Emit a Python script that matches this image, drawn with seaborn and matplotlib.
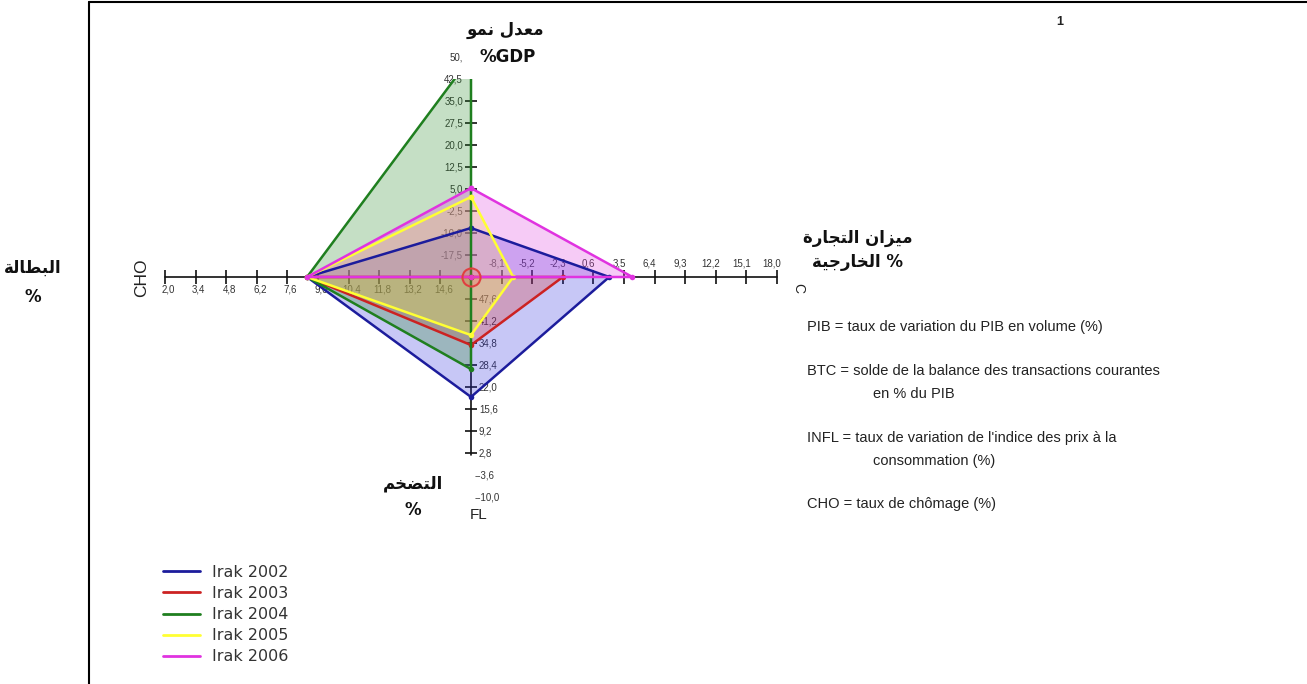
import numpy as np
import pandas as pd
import matplotlib
matplotlib.use('Agg')
import matplotlib.pyplot as plt
import matplotlib.transforms as mtransforms
from matplotlib.lines import Line2D
import seaborn as sns

# data
years = ['Irak 2002', 'Irak 2003', 'Irak 2004', 'Irak 2005', 'Irak 2006']
pib = [-8.3, -25.0, 50.0, 2.3, 5.3]      # PIB growth (%)
btc = [2.1, -2.3, -11.0, -7.0, 4.3]      # current account (% PIB)
infl = [19.1, 34.2, 27.2, 37.1, 54.0]    # inflation (%)
cho = [8.5, 8.5, 8.5, 8.5, 8.5]          # unemployment (%)
colors = ['#1c1c9c', '#cc2222', '#1f7f1f', '#ffff33', '#e033e0']
fills = ['#3030e0', '#dd3030', '#2a8a2a', '#ffff40', '#e040e0']

# axis ranges: centre value -> outer value
pib_rng = (-25.0, 50.0)
btc_rng = (-11.0, 18.0)
infl_rng = (54.0, -10.0)
cho_rng = (16.0, 2.0)

W, H = 1307, 684
cx, cy, sx, sy = 471, 277, 306, 220

sns.set_style('white')
plt.rcParams['font.family'] = ['Liberation Sans', 'DejaVu Sans']

fig = plt.figure(figsize=(W / 100, H / 100), dpi=100)
xl, xh, yl, yh = -1.05, 1.05, -1.2, 0.9
left = cx + xl * sx
ax = fig.add_axes([left / W, 1 - (cy - yl * sy) / H, (xh - xl) * sx / W, (yh - yl) * sy / H])
ax.set_xlim(xl, xh)
ax.set_ylim(yl, yh)
ax.axis('off')


def norm(v, rng):
    return max((v - rng[0]) / (rng[1] - rng[0]), 0.0)


def lab(v):
    return f'{v:.1f}'.replace('.', ',')


def off(dx, dy):
    return mtransforms.offset_copy(ax.transData, fig=fig, x=dx, y=-dy, units='dots')


# --- axes lines and ticks
ax.plot([-1, 1], [0, 0], color='#111111', lw=1.2, zorder=1)
ax.plot([0, 0], [-0.81, 0.9], color='#111111', lw=1.2, zorder=1)
n = np.linspace(0.1, 1.0, 10)

ax.plot(np.zeros(8), n[:8], ls='none', marker='_', ms=9, mew=1.2, color='#111', zorder=1)
ax.plot(np.zeros(8), -n[:8], ls='none', marker='_', ms=9, mew=1.2, color='#111', zorder=1)
ax.plot(-n, np.zeros(10), ls='none', marker='|', ms=10, mew=1.2, color='#111', zorder=1)
ax.plot(n, np.zeros(10), ls='none', marker='|', ms=10, mew=1.2, color='#111', zorder=1)

tk = dict(fontsize=7, color='#333333', zorder=1)
pib_t = np.linspace(*pib_rng, 11)[1:]
btc_t = np.linspace(*btc_rng, 11)[1:]
infl_t = np.linspace(*infl_rng, 11)[1:]
cho_t = np.linspace(*cho_rng, 11)[1:]
for i, k in enumerate(n):
    t = lab(pib_t[i]) if i < 9 else '50,'
    ax.text(0, k, t, transform=off(-8, 0), ha='right', va='center', **tk)
    ax.text(k, 0, lab(btc_t[i]), transform=off(-5, -13), ha='center', va='center', **tk)
    t = lab(infl_t[i]) if i < 8 else '-' + lab(infl_t[i])
    ax.text(0, -k, t, transform=off(8 if i < 8 else 4, 0), ha='left', va='center', **tk)
    ax.text(-k, 0, lab(cho_t[i]), transform=off(3, 12), ha='center', va='center', **tk)

# --- polygons
rows = []
for i, yr in enumerate(years):
    p = norm(pib[i], pib_rng)
    pts = [(0, p), (norm(btc[i], btc_rng), 0), (0, -norm(infl[i], infl_rng)),
           (-norm(cho[i], cho_rng), 0), (0, p)]
    for j, (x, y) in enumerate(pts):
        rows.append({'year': yr, 'x': x, 'y': y, 'order': j})
df = pd.DataFrame(rows)

for i, yr in enumerate(years):
    d = df[df['year'] == yr]
    ax.fill(d['x'], d['y'], color=fills[i], alpha=0.27, lw=0, zorder=2)

sns.lineplot(data=df, x='x', y='y', hue='year', palette=colors, sort=False,
             estimator=None, lw=1.8, marker='o', markersize=4, markeredgewidth=0,
             legend=False, ax=ax, zorder=3)
ax.set_xlim(xl, xh)
ax.set_ylim(yl, yh)
ax.axis('off')

# out-of-range marker for 2003 at the centre
ax.plot(0, 0, 'o', ms=13, mfc=(1, 0.3, 0.3, 0.2), mec='#e04040', mew=1.5, zorder=4)

# legend
handles = [Line2D([], [], color=c, lw=2) for c in colors]
fig.legend(handles, years, loc='upper left', bbox_to_anchor=(163 / W, 1 - 565 / H),
           frameon=False, handlelength=2.3, handletextpad=0.75,
           labelspacing=0.38, borderpad=0, borderaxespad=0,
           prop={'family': 'DejaVu Sans', 'size': 11.5})
for t in fig.legends[0].get_texts():
    t.set_color('#333333')

# --- arabic labels (shaped to presentation forms, visual order)
FORMS = {
    'ا': ('\uFE8D', '\uFE8E', None, None),
    'ب': ('\uFE8F', '\uFE90', '\uFE91', '\uFE92'),
    'ة': ('\uFE93', '\uFE94', None, None),
    'ت': ('\uFE95', '\uFE96', '\uFE97', '\uFE98'),
    'ج': ('\uFE9D', '\uFE9E', '\uFE9F', '\uFEA0'),
    'خ': ('\uFEA5', '\uFEA6', '\uFEA7', '\uFEA8'),
    'د': ('\uFEA9', '\uFEAA', None, None),
    'ر': ('\uFEAD', '\uFEAE', None, None),
    'ز': ('\uFEAF', '\uFEB0', None, None),
    'ض': ('\uFEBD', '\uFEBE', '\uFEBF', '\uFEC0'),
    'ط': ('\uFEC1', '\uFEC2', '\uFEC3', '\uFEC4'),
    'ع': ('\uFEC9', '\uFECA', '\uFECB', '\uFECC'),
    'ل': ('\uFEDD', '\uFEDE', '\uFEDF', '\uFEE0'),
    'م': ('\uFEE1', '\uFEE2', '\uFEE3', '\uFEE4'),
    'ن': ('\uFEE5', '\uFEE6', '\uFEE7', '\uFEE8'),
    'و': ('\uFEED', '\uFEEE', None, None),
    'ي': ('\uFEF1', '\uFEF2', '\uFEF3', '\uFEF4'),
}


def ar(s):
    out = []
    for i, c in enumerate(s):
        if c not in FORMS:
            out.append(c)
            continue
        prev = s[i - 1] if i > 0 else ''
        nxt = s[i + 1] if i + 1 < len(s) else ''
        jp = prev in FORMS and FORMS[prev][2] is not None
        jn = nxt in FORMS and FORMS[c][2] is not None
        iso, fin, ini, med = FORMS[c]
        out.append(med if jp and jn else fin if jp else ini if jn else iso)
    return ''.join(reversed(out))


arb = dict(fontsize=12, fontweight='bold', ha='center', va='center', color='#111111',
           family=['DejaVu Sans'])


def ftext(x, y, s, **kw):
    fig.text(x / W, 1 - y / H, s, **kw)


ftext(505, 30, ar('معدل نمو'), **arb)
ftext(508, 57, '%GDP', **arb)
ftext(858, 238, ar('ميزان التجارة'), **arb)
ftext(858, 262, ar('% الخارجية'), **arb)
ftext(33, 268, ar('البطالة'), **arb)
ftext(33, 297, '%', **arb)
ftext(413, 483, ar('التضخم'), **arb)
ftext(413, 510, '%', **arb)

ftext(142, 278, 'CHO', fontsize=12.5, rotation=90, ha='center', va='center', color='#222222')
ftext(479, 515, 'FL', fontsize=11, ha='center', va='center', color='#222222')
ftext(798, 288, 'C', fontsize=10, rotation=-90, ha='center', va='center', color='#222222')
ftext(1060, 22, '1', fontsize=9, fontweight='bold', ha='center', va='center', color='#222222')

# --- definitions on the right
fr = dict(fontsize=10.5, ha='left', va='center', color='#222222')
ftext(807, 327, 'PIB = taux de variation du PIB en volume (%)', **fr)
ftext(807, 371, 'BTC = solde de la balance des transactions courantes', **fr)
ftext(873, 394, 'en % du PIB', **fr)
ftext(807, 438, "INFL = taux de variation de l'indice des prix à la", **fr)
ftext(873, 461, 'consommation (%)', **fr)
ftext(807, 504, 'CHO = taux de chômage (%)', **fr)

# frame lines
fig.add_artist(Line2D([89.5 / W, 89.5 / W], [0, 1 - 1.5 / H], color='black', lw=1.5, transform=fig.transFigure))
fig.add_artist(Line2D([89.5 / W, 1], [1 - 1.5 / H, 1 - 1.5 / H], color='black', lw=1.5, transform=fig.transFigure))

fig.savefig('out.png', dpi=100)
